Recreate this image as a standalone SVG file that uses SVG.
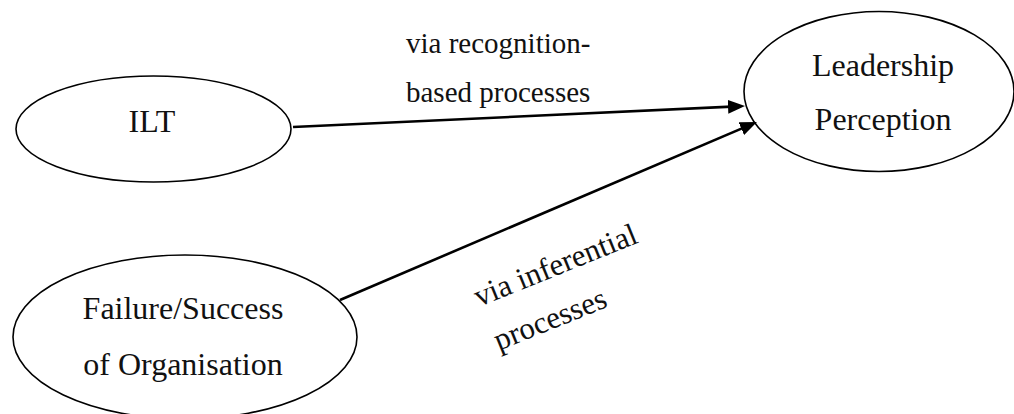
<svg xmlns="http://www.w3.org/2000/svg" width="1014" height="414" viewBox="0 0 1014 414">
  <style>
    .node { fill: #ffffff; stroke: #000000; stroke-width: 1.6; }
    .ntext { font-family: "Liberation Serif", "Times New Roman", serif; font-size: 32px; fill: #111111; text-anchor: middle; }
    .ltext { font-family: "Liberation Serif", "Times New Roman", serif; font-size: 29px; fill: #111111; }
    .rtext { font-size: 31px; }
    .edge { fill: none; stroke: #000000; stroke-width: 2.6; }
  </style>
  <defs>
    <marker id="arrow" viewBox="0 0 17 14" refX="9" refY="7" markerWidth="17" markerHeight="14" markerUnits="userSpaceOnUse" orient="auto">
      <path d="M0,0 L17,7 L0,14 Z" fill="#000000"/>
    </marker>
  </defs>
  <rect width="1014" height="414" fill="#ffffff"/>

  <g id="node-ilt">
    <ellipse class="node" cx="153.5" cy="129" rx="137.5" ry="53"/>
    <text class="ntext" x="152" y="132">ILT</text>
  </g>

  <g id="node-leadership">
    <ellipse class="node" cx="879" cy="91.5" rx="135" ry="80"/>
    <text class="ntext" x="883" y="76">Leadership</text>
    <text class="ntext" x="883" y="130">Perception</text>
  </g>

  <g id="node-failure">
    <ellipse class="node" cx="185" cy="337" rx="172" ry="82"/>
    <text class="ntext" x="183" y="319">Failure/Success</text>
    <text class="ntext" x="183" y="375">of Organisation</text>
  </g>

  <g id="connectors">
    <path class="edge" d="M293,127 L737,106.4" marker-end="url(#arrow)"/>
    <path class="edge" d="M340,300 L749.6,125.1" marker-end="url(#arrow)"/>
  </g>

  <g id="labels">
    <text class="ltext" x="406" y="53">via recognition-</text>
    <text class="ltext" x="406" y="102">based processes</text>
    <g transform="translate(479,307) rotate(-22)">
      <text class="ltext rtext" x="0" y="0">via inferential</text>
      <text class="ltext rtext" x="2" y="48">processes</text>
    </g>
  </g>
</svg>
